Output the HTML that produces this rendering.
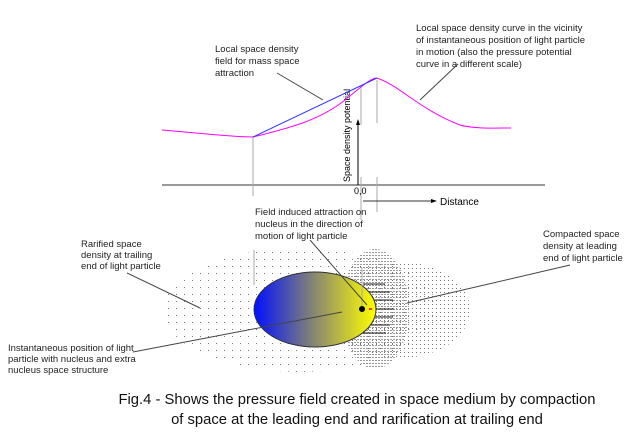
<!DOCTYPE html>
<html><head><style>
body{margin:0;background:#fff}
svg{display:block;font-family:"Liberation Sans",sans-serif}
</style></head><body>
<svg width="641" height="445" viewBox="0 0 641 445" xmlns="http://www.w3.org/2000/svg">
<defs>
<linearGradient id="g" x1="0" x2="1" y1="0" y2="0">
<stop offset="0" stop-color="#0010ff"/><stop offset="0.5" stop-color="#8a8870"/><stop offset="1" stop-color="#ffff00"/>
</linearGradient>
<pattern id="sp" width="8" height="7" patternUnits="userSpaceOnUse"><rect x="0" y="0" width="1" height="1" fill="#777"/></pattern>
<pattern id="md" width="4" height="4" patternUnits="userSpaceOnUse"><rect x="0" y="0" width="1" height="1" fill="#777"/></pattern>
<pattern id="dn" width="3" height="3" patternUnits="userSpaceOnUse"><rect x="0" y="0" width="2" height="1" fill="#999"/></pattern>
</defs>
<!-- dotted field -->
<ellipse cx="300" cy="310" rx="137" ry="62" fill="url(#sp)"/>
<ellipse cx="400" cy="310" rx="70" ry="48" fill="url(#md)"/>
<ellipse cx="375" cy="309" rx="34" ry="60" fill="url(#dn)"/>
<g stroke="#222" stroke-width="1">
<line x1="363" y1="284" x2="385" y2="284"/><line x1="368" y1="292" x2="390" y2="292"/>
<line x1="372" y1="300" x2="393" y2="300"/><line x1="376" y1="309" x2="394" y2="309"/>
<line x1="373" y1="317" x2="393" y2="317"/><line x1="369" y1="325" x2="390" y2="325"/>
<line x1="363" y1="333" x2="386" y2="333"/>
</g>
<ellipse cx="315" cy="309.5" rx="61" ry="37.5" fill="url(#g)" stroke="#333" stroke-width="1"/>
<circle cx="362" cy="309" r="3" fill="#000"/>
<rect x="369" y="308" width="3" height="2" fill="#f33"/>
<!-- axes -->
<line x1="162" y1="185" x2="545" y2="185" stroke="#333"/>
<line x1="358" y1="185" x2="358" y2="122" stroke="#000"/>
<polygon points="358,119 356,125 360,125" fill="#000"/>
<g stroke="#aaa">
<line x1="253" y1="137" x2="253" y2="196"/>
<line x1="361" y1="86" x2="361" y2="125"/>
<line x1="361" y1="177" x2="361" y2="220"/>
<line x1="377" y1="80" x2="377" y2="123"/>
<line x1="377" y1="177" x2="377" y2="212"/>
<line x1="254" y1="250" x2="254" y2="285"/>
<line x1="362" y1="268" x2="362" y2="306"/>
</g>
<line x1="363" y1="201" x2="432" y2="201" stroke="#333"/>
<polygon points="437,201 431,199 431,203" fill="#000"/>
<text x="440" y="205" font-size="10">Distance</text>
<text x="354" y="194" font-size="9">0,0</text>
<text transform="translate(350,182) rotate(-90)" font-size="9">Space density potential</text>
<!-- curves -->
<path d="M162,130 C200,133 230,137 253,137 C290,128 320,120 345,100 C360,88 368,80 376,78 C395,82 420,110 460,125 C475,129 495,128 511,128" fill="none" stroke="#f0f" stroke-width="1"/>
<line x1="253" y1="137" x2="377" y2="78" stroke="#33f" stroke-width="1"/>
<!-- leaders -->
<g stroke="#444" stroke-width="1">
<line x1="277" y1="73" x2="323" y2="100"/>
<line x1="458" y1="64" x2="420" y2="100"/>
<line x1="310" y1="240" x2="367" y2="305"/>
<line x1="127" y1="273" x2="200" y2="308"/>
<line x1="570" y1="265" x2="407" y2="303"/>
<line x1="133" y1="352" x2="342" y2="312"/>
</g>
<g font-size="9.5" fill="#222">
<text x="215" y="52">Local space density</text>
<text x="215" y="64">field for mass space</text>
<text x="215" y="76">attraction</text>
<text x="416" y="31">Local space density curve in the vicinity</text>
<text x="416" y="43">of instantaneous position of light particle</text>
<text x="416" y="55">in motion (also the pressure potential</text>
<text x="416" y="67">curve in a different scale)</text>
<text x="255" y="215">Field induced attraction on</text>
<text x="255" y="227">nucleus in the direction of</text>
<text x="255" y="239">motion of light particle</text>
<text x="81" y="247">Rarified space</text>
<text x="81" y="258">density at trailing</text>
<text x="81" y="269">end of light particle</text>
<text x="543" y="237">Compacted space</text>
<text x="543" y="249">density at leading</text>
<text x="543" y="261">end of light particle</text>
<text x="8" y="351">Instantaneous position of light</text>
<text x="8" y="362">particle with nucleus and extra</text>
<text x="8" y="373">nucleus space structure</text>
</g>
<g font-size="14.8" fill="#111" text-anchor="middle">
<text x="357" y="404">Fig.4 -  Shows the pressure field created in space medium by compaction</text>
<text x="357" y="424">of space at the leading end and rarification at trailing end</text>
</g>
</svg>
</body></html>
